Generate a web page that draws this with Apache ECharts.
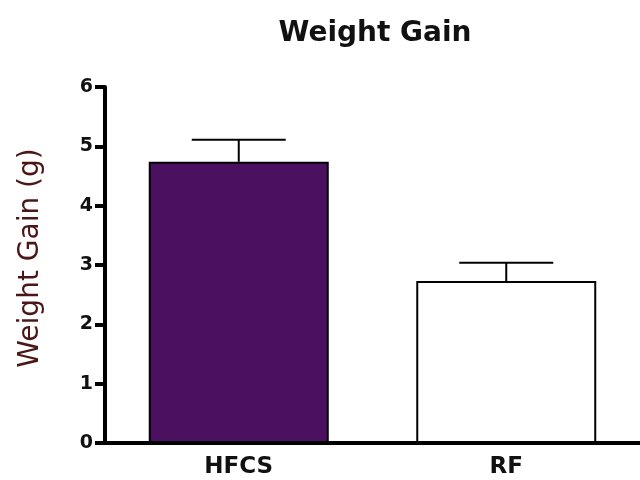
<!DOCTYPE html>
<html>
<head>
<meta charset="utf-8">
<style>html,body{margin:0;padding:0;background:#fff}#c{width:640px;height:480px}</style>
<script src="https://cdn.jsdelivr.net/npm/echarts@6/dist/echarts.min.js"></script>
</head>
<body>
<div id="c"></div>
<script>
var categories = ['HFCS', 'RF'];
var means = [4.74, 2.73];
var upper = [5.11, 3.04];
var barColors = ['#4b1160', '#ffffff'];
var yTicks = [0, 1, 2, 3, 4, 5, 6];

var chart = echarts.init(document.getElementById('c'));
var font = '"DejaVu Sans", Verdana, sans-serif';
chart.setOption({
  animation: false,
  backgroundColor: '#ffffff',
  title: {
    text: 'Weight Gain', left: 370, top: 15, textAlign: 'center',
    textStyle: { fontFamily: font, fontSize: 28, fontWeight: 'bold', color: '#111' }
  },
  grid: { left: 105, right: -5, top: 87, bottom: 37, containLabel: false },
  xAxis: {
    type: 'category', data: categories,
    axisLine: { lineStyle: { color: '#000', width: 4 } },
    axisTick: { alignWithLabel: true, length: 10, lineStyle: { color: '#000', width: 4 } },
    axisLabel: { fontFamily: font, fontSize: 23, fontWeight: 'bold', color: '#111', margin: 13 }
  },
  yAxis: {
    type: 'value', min: 0, max: 6, interval: 1,
    name: 'Weight Gain (g)', nameLocation: 'middle', nameGap: 60, nameRotate: 90,
    nameTextStyle: { fontFamily: font, fontSize: 28, color: '#4a1616', padding: [0, 0, 0, 14] },
    axisLine: { show: true, lineStyle: { color: '#000', width: 4 } },
    axisTick: { show: true, length: 10, lineStyle: { color: '#000', width: 4 } },
    axisLabel: { fontFamily: font, fontSize: 19, fontWeight: 'bold', color: '#111', margin: 12,
      formatter: function (v) { return yTicks.indexOf(v) >= 0 ? String(v) : ''; } },
    splitLine: { show: false }
  },
  series: [
    {
      type: 'bar', barWidth: 180,
      data: means.map(function (v, i) {
        return { value: v, itemStyle: { color: barColors[i], borderColor: '#000', borderWidth: 2 } };
      }),
      z: 2
    },
    {
      type: 'custom', z: 3,
      data: categories.map(function (c, i) { return [i, means[i], upper[i]]; }),
      renderItem: function (params, api) {
        var x = api.value(0);
        var p0 = api.coord([x, api.value(1)]);
        var p1 = api.coord([x, api.value(2)]);
        var hw = 47;
        return {
          type: 'group',
          children: [
            { type: 'line', shape: { x1: p0[0], y1: p0[1], x2: p1[0], y2: p1[1] }, style: { stroke: '#000', lineWidth: 2 } },
            { type: 'line', shape: { x1: p1[0] - hw, y1: p1[1], x2: p1[0] + hw, y2: p1[1] }, style: { stroke: '#000', lineWidth: 2 } }
          ]
        };
      }
    }
  ]
});
</script>
</body>
</html>
